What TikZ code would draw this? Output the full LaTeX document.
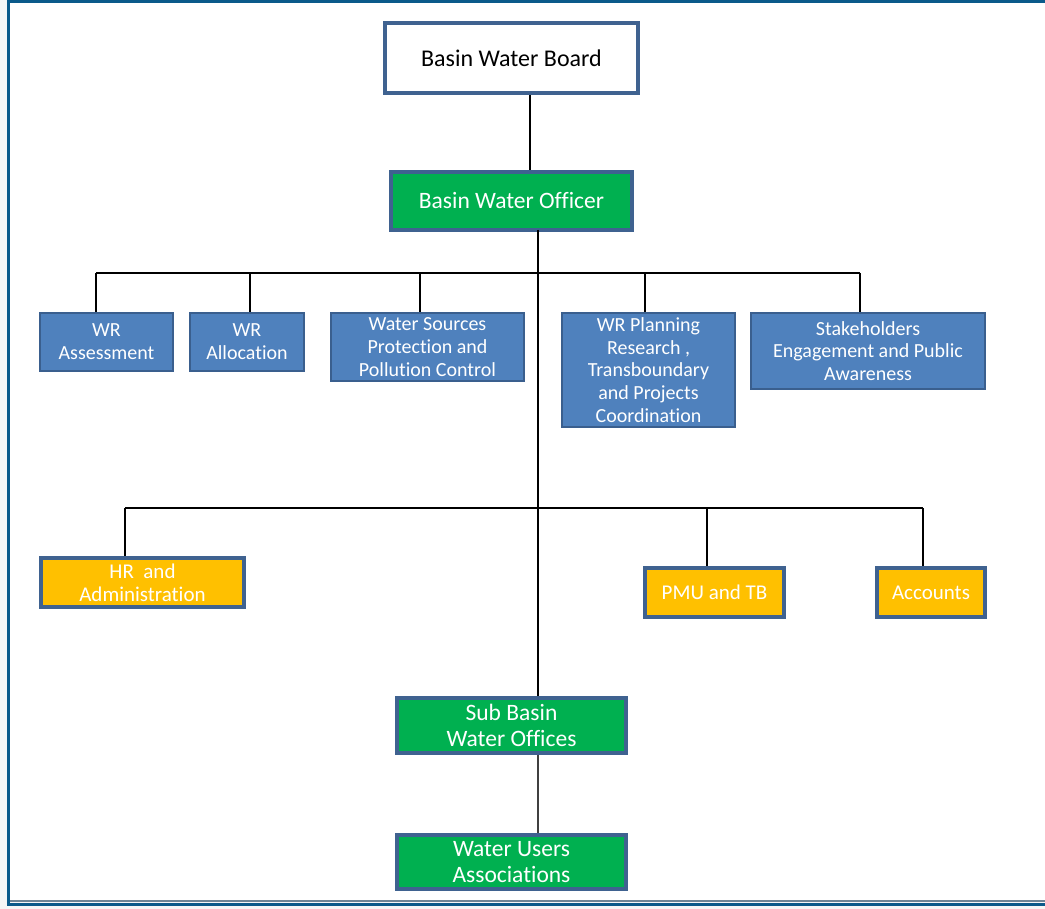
\documentclass[tikz,border=0pt]{standalone}
\usepackage{fontspec}
\setmainfont[Ligatures={NoCommon}]{Carlito}
\definecolor{frameblue}{HTML}{0B5A8A}
\definecolor{framegray}{HTML}{6E8596}
\definecolor{pagegray}{HTML}{F6F6F6}
\definecolor{edgeblue}{HTML}{3F6290}
\definecolor{unitblue}{HTML}{4F81BD}
\definecolor{unitedge}{HTML}{3A5F8E}
\definecolor{officegreen}{HTML}{00B050}
\definecolor{supportgold}{HTML}{FFC000}
\begin{document}
\begin{tikzpicture}[x=1pt,y=-1pt,
  box/.style={rectangle, align=center, inner sep=0pt},
  board/.style={box, draw=edgeblue, line width=4.5pt, fill=white, text=black,
    font=\fontsize{24}{28}\selectfont},
  greenbox/.style={box, draw=edgeblue, line width=3.5pt, fill=officegreen, text=white,
    font=\fontsize{23.5}{25.5}\selectfont},
  unit/.style={box, draw=unitedge, line width=2.5pt, fill=unitblue, text=white,
    font=\fontsize{20}{22.8}\selectfont},
  support/.style={box, draw=edgeblue, line width=3.5pt, fill=supportgold, text=white,
    font=\fontsize{21}{22.8}\selectfont},
  link/.style={draw=black, line width=1.2pt},
  sublink/.style={draw=black!75, line width=1.2pt}]
% page and frame
\fill[pagegray] (0,0) rectangle (1045,909);
\useasboundingbox (0,0) rectangle (1045,909);
\fill[white] (10,3) rectangle (1045,900);
\draw[frameblue, line width=3pt] (8.5,0) -- (8.5,905.5);
\draw[frameblue, line width=3pt] (7,1.5) -- (1045,1.5);
\draw[framegray, line width=2pt] (10,900.5) -- (1045,900.5);
\draw[frameblue, line width=3pt] (7,904.5) -- (1045,904.5);

% top of the hierarchy
\node[board, minimum width=253, minimum height=70] (bwb) at (511.5,58) {Basin Water Board};
\node[greenbox, minimum width=241, minimum height=58] (bwo) at (511.5,201) {Basin Water Officer};

% technical units
\node[unit, minimum width=133, minimum height=58] (wra) at (106.5,342) {WR\\Assessment};
\node[unit, minimum width=114, minimum height=58] (wral) at (247,342) {WR\\Allocation};
\node[unit, minimum width=193, minimum height=68] (wsp) at (427.5,347) {Water Sources\\Protection and\\Pollution Control};
\node[unit, minimum width=173, minimum height=114] (wrp) at (648.5,370) {WR Planning\\Research ,\\Transboundary\\and Projects\\Coordination};
\node[unit, minimum width=234, minimum height=76] (stk) at (868,351) {Stakeholders\\Engagement and Public\\Awareness};

% support units
\node[support, minimum width=203, minimum height=49] (hr) at (142.5,582.5) {HR~ and\\Administration};
\node[support, minimum width=139, minimum height=49] (pmu) at (714.5,592.5) {PMU and TB};
\node[support, minimum width=108, minimum height=49] (acc) at (931,592.5) {Accounts};

% field level
\node[greenbox, minimum width=229, minimum height=55] (sbwo) at (511.5,725.5) {Sub Basin\\Water Offices};
\node[greenbox, minimum width=229, minimum height=54] (wua) at (511.5,862) {Water Users\\Associations};

% connectors
\coordinate (trunk) at (538,230);
\coordinate (t1) at (96,273);
\coordinate (t2) at (250,273);
\coordinate (t3) at (420,273);
\coordinate (t4) at (645,273);
\coordinate (t5) at (860,273);
\coordinate (s1) at (125,508);
\coordinate (s2) at (707,508);
\coordinate (s3) at (923,508);

\draw[link] (bwb.south -| 530,0) -- (bwo.north -| 530,0);
\draw[link] (trunk) -- (trunk |- sbwo.north);
\draw[link] (t1) -- (t5);
\draw[link] (t1) -- (t1 |- wra.north);
\draw[link] (t2) -- (t2 |- wral.north);
\draw[link] (t3) -- (t3 |- wsp.north);
\draw[link] (t4) -- (t4 |- wrp.north);
\draw[link] (t5) -- (t5 |- stk.north);
\draw[link] (s1) -- (s3);
\draw[link] (s1) -- (s1 |- hr.north);
\draw[link] (s2) -- (s2 |- pmu.north);
\draw[link] (s3) -- (s3 |- acc.north);
\draw[sublink] (sbwo.south -| trunk) -- (wua.north -| trunk);
\end{tikzpicture}
\end{document}
